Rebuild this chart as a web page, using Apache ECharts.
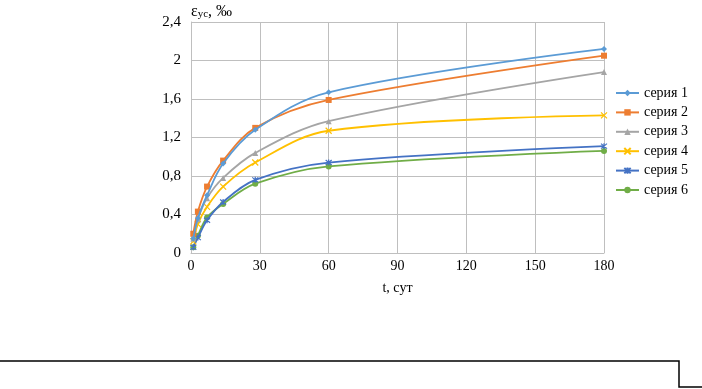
<!DOCTYPE html>
<html>
<head>
<meta charset="utf-8">
<script src="https://cdn.jsdelivr.net/npm/echarts@6/dist/echarts.min.js"></script>
<style>html,body{margin:0;padding:0;background:#fff;}#c{width:702px;height:389px;}</style>
</head>
<body>
<div id="c"></div>
<script>
const days = [1, 3, 7, 14, 28, 60, 180];
const seriesNames = ['серия 1', 'серия 2', 'серия 3', 'серия 4', 'серия 5', 'серия 6'];
const s1 = [0.15, 0.36, 0.60, 0.93, 1.28, 1.67, 2.12];
const s2 = [0.20, 0.43, 0.69, 0.96, 1.30, 1.59, 2.05];
const s3 = [0.15, 0.35, 0.57, 0.78, 1.04, 1.37, 1.88];
const s4 = [0.12, 0.30, 0.48, 0.69, 0.94, 1.27, 1.43];
const s5 = [0.06, 0.16, 0.34, 0.53, 0.76, 0.94, 1.11];
const s6 = [0.06, 0.18, 0.37, 0.51, 0.72, 0.90, 1.06];
const xTicks = [0, 30, 60, 90, 120, 150, 180];
const yTicks = ['0', '0,4', '0,8', '1,2', '1,6', '2', '2,4'];

const values = [s1, s2, s3, s4, s5, s6];
const colors = ['#5B9BD5', '#ED7D31', '#A5A5A5', '#FFC000', '#4472C4', '#70AD47'];
const symbols = [
  'diamond', 'rect', 'triangle',
  'path://M0,0L10,10M10,0L0,10',
  'path://M0,0L10,10M10,0L0,10M5,-1L5,11',
  'circle'
];
const sizes = [6, 6, 6, 6, 6, 6];
const serif = 'Liberation Serif';

const chart = echarts.init(document.getElementById('c'));
chart.setOption({
  animation: false,
  backgroundColor: '#fff',
  grid: { left: 191, right: 98, top: 22, bottom: 136, containLabel: false },
  legend: {
    orient: 'vertical', left: 615, top: 85, padding: 0,
    itemWidth: 23, itemHeight: 8, itemGap: 3.4,
    textStyle: { fontFamily: serif, fontSize: 14, color: '#000', lineHeight: 16 },
    data: seriesNames
  },
  xAxis: {
    type: 'value', min: 0, max: 180, interval: 30,
    name: 't, сут', nameLocation: 'middle', nameGap: 28,
    nameTextStyle: { fontFamily: serif, fontSize: 14, color: '#000' },
    axisLine: { show: true, lineStyle: { color: '#bfbfbf', width: 1 } },
    axisTick: { show: false },
    axisLabel: { fontFamily: serif, fontSize: 14, color: '#000', margin: 6,
      formatter: v => String(xTicks[xTicks.indexOf(v)]) },
    splitLine: { show: true, lineStyle: { color: '#bfbfbf', width: 1 } }
  },
  yAxis: {
    type: 'value', min: 0, max: 2.4, interval: 0.4,
    name: '{a|ε}{b|ус}{a|, ‰}', nameLocation: 'end', nameGap: 2,
    nameTextStyle: {
      align: 'left', verticalAlign: 'bottom',
      rich: {
        a: { fontFamily: serif, fontSize: 16, color: '#000' },
        b: { fontFamily: serif, fontSize: 11, color: '#000', verticalAlign: 'bottom' }
      }
    },
    axisLine: { show: true, lineStyle: { color: '#bfbfbf', width: 1 } },
    axisTick: { show: false },
    axisLabel: { fontFamily: serif, fontSize: 15, color: '#000', margin: 10,
      formatter: v => yTicks[Math.round(v / 0.4)] },
    splitLine: { show: true, lineStyle: { color: '#bfbfbf', width: 1 } }
  },
  series: values.map((vals, i) => ({
    name: seriesNames[i],
    type: 'line',
    smooth: 0.35,
    data: days.map((d, j) => [d, vals[j]]),
    symbol: symbols[i],
    symbolSize: sizes[i],
    showSymbol: true,
    lineStyle: { color: colors[i], width: 1.8 },
    itemStyle: { color: colors[i], borderColor: colors[i], borderWidth: i >= 3 && i <= 4 ? 1.2 : 0 },
    z: 10 - i
  })),
  graphic: [{
    type: 'polyline',
    shape: { points: [[0, 361], [679, 361], [679, 387], [702, 387]] },
    style: { stroke: '#000', lineWidth: 1.5, fill: null },
    silent: true
  }]
});
</script>
</body>
</html>
